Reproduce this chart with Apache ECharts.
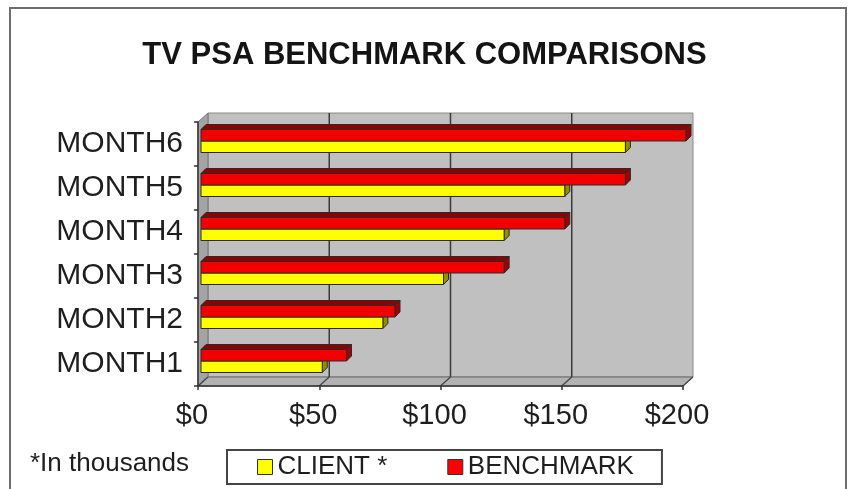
<!DOCTYPE html>
<html>
<head>
<meta charset="utf-8">
<script src="https://cdn.jsdelivr.net/npm/echarts@6/dist/echarts.min.js"></script>
<style>
html,body{margin:0;padding:0;background:#fff;}
#main{width:849px;height:489px;}
</style>
</head>
<body>
<div id="main"></div>
<script>
const categories = ['MONTH1', 'MONTH2', 'MONTH3', 'MONTH4', 'MONTH5', 'MONTH6'];
const clientValues = [50, 75, 100, 125, 150, 175];
const benchmarkValues = [60, 80, 125, 150, 175, 200];
const xTickValues = [0, 50, 100, 150, 200];
const titleText = 'TV PSA BENCHMARK COMPARISONS';
const noteText = '*In thousands';
const seriesNames = ['CLIENT *', 'BENCHMARK'];

const FONT = '"Liberation Sans", Arial, sans-serif';
const WALL_DX = 10, WALL_DY = -9;
const BAR_FX = 3, BAR_FY = -3;
const BAR_DX = 5, BAR_DY = -5;
const BAR_H = 11.5;

const chart = echarts.init(document.getElementById('main'), null, {renderer: 'canvas'});

function frameItem(params, api) {
  const cs = params.coordSys;
  const x = cs.x, y = cs.y, w = cs.width, h = cs.height;
  const children = [];
  children.push({type: 'rect', shape: {x: x + WALL_DX, y: y + WALL_DY, width: w, height: h},
    style: {fill: '#c0c0c0', stroke: '#8a8a8a', lineWidth: 1}});
  children.push({type: 'polygon', shape: {points: [[x, y], [x + WALL_DX, y + WALL_DY], [x + WALL_DX, y + h + WALL_DY], [x, y + h]]},
    style: {fill: '#a4a4a4', stroke: '#777', lineWidth: 1}});
  children.push({type: 'polygon', shape: {points: [[x, y + h], [x + WALL_DX, y + h + WALL_DY], [x + w + WALL_DX, y + h + WALL_DY], [x + w, y + h]]},
    style: {fill: '#b2b2b2', stroke: '#666', lineWidth: 1}});
  xTickValues.forEach(function (t) {
    const px = api.coord([t, 0])[0];
    if (t > 0 && t < xTickValues[xTickValues.length - 1]) {
      children.push({type: 'line', shape: {x1: px + WALL_DX, y1: y + WALL_DY, x2: px + WALL_DX, y2: y + h + WALL_DY},
        style: {stroke: '#3a3a3a', lineWidth: 1.5}});
    }
    children.push({type: 'line', shape: {x1: px, y1: y + h, x2: px + WALL_DX, y2: y + h + WALL_DY},
      style: {stroke: '#444', lineWidth: 1.2}});
  });
  return {type: 'group', children: children};
}

function makeBarRenderer(upper, cFront, cTop, cEnd) {
  return function (params, api) {
    const v = api.value(0), c = api.value(1);
    const p = api.coord([v, c]);
    const p0 = api.coord([0, c]);
    const cy = p[1] + BAR_FY;
    const yT = upper ? cy - BAR_H : cy;
    const yB = upper ? cy : cy + BAR_H;
    const xL = p0[0] + BAR_FX, xR = p[0] + BAR_FX;
    const stroke = {stroke: '#2a2a2a', lineWidth: 1};
    return {type: 'group', children: [
      {type: 'polygon', shape: {points: [[xL, yT], [xL + BAR_DX, yT + BAR_DY], [xR + BAR_DX, yT + BAR_DY], [xR, yT]]},
        style: Object.assign({fill: cTop}, stroke)},
      {type: 'polygon', shape: {points: [[xR, yT], [xR + BAR_DX, yT + BAR_DY], [xR + BAR_DX, yB + BAR_DY], [xR, yB]]},
        style: Object.assign({fill: cEnd}, stroke)},
      {type: 'rect', shape: {x: xL, y: yT, width: xR - xL, height: yB - yT},
        style: Object.assign({fill: cFront}, stroke)}
    ]};
  };
}

const clientData = clientValues.map(function (v, i) { return [v, i]; });
const benchData = benchmarkValues.map(function (v, i) { return [v, i]; });

chart.setOption({
  animation: false,
  backgroundColor: '#fff',
  title: {
    text: titleText, left: 'center', top: 40, padding: 0,
    textStyle: {fontFamily: FONT, fontSize: 31, fontWeight: 'bold', color: '#141414'}
  },
  grid: {left: 198, top: 122, width: 485, height: 264, containLabel: false},
  xAxis: {
    type: 'value', min: 0, max: 200, interval: 50, z: 5,
    axisLine: {show: true, lineStyle: {color: '#333', width: 1.5}},
    axisTick: {show: true, length: 4, lineStyle: {color: '#333', width: 1.5}},
    splitLine: {show: false},
    axisLabel: {fontFamily: FONT, fontSize: 29, color: '#1e1e1e', margin: 15, padding: [0, 12, 0, 0],
      formatter: function (v) { return '$' + v; }}
  },
  yAxis: {
    type: 'category', data: categories, z: 5,
    axisLine: {show: true, lineStyle: {color: '#333', width: 1.5}},
    axisTick: {show: true, length: 4, lineStyle: {color: '#333', width: 1.5}},
    splitLine: {show: false},
    axisLabel: {fontFamily: FONT, fontSize: 30, color: '#1e1e1e', margin: 15}
  },
  legend: {
    data: seriesNames, left: 227, top: 450, orient: 'horizontal',
    icon: 'rect', itemWidth: 15, itemHeight: 15, itemGap: 60,
    padding: [4, 28, 4, 30], borderColor: '#444', borderWidth: 2,
    itemStyle: {borderColor: '#333', borderWidth: 1},
    textStyle: {fontFamily: FONT, fontSize: 26, color: '#1e1e1e', lineHeight: 26}
  },
  graphic: [
    {type: 'rect', left: 9, top: 7, shape: {width: 836, height: 500}, silent: true, z: -10,
      style: {fill: '#fff', stroke: '#6e6e6e', lineWidth: 2}},
    {type: 'text', left: 30, top: 451, silent: true,
      style: {text: noteText, font: '26px ' + FONT, fill: '#1e1e1e'}}
  ],
  series: [
    {type: 'custom', name: '__frame', data: [[0, 0]], renderItem: frameItem, clip: false, silent: true, z: 1,
      encode: {x: 0, y: 1}},
    {type: 'custom', name: seriesNames[0], data: clientData, clip: false, z: 3,
      itemStyle: {color: '#ffff00'}, encode: {x: 0, y: 1},
      renderItem: makeBarRenderer(false, '#ffff00', '#a8a800', '#8f8f00')},
    {type: 'custom', name: seriesNames[1], data: benchData, clip: false, z: 4,
      itemStyle: {color: '#ff0000'}, encode: {x: 0, y: 1},
      renderItem: makeBarRenderer(true, '#f20000', '#8c0000', '#a00000')}
  ]
});
</script>
</body>
</html>
